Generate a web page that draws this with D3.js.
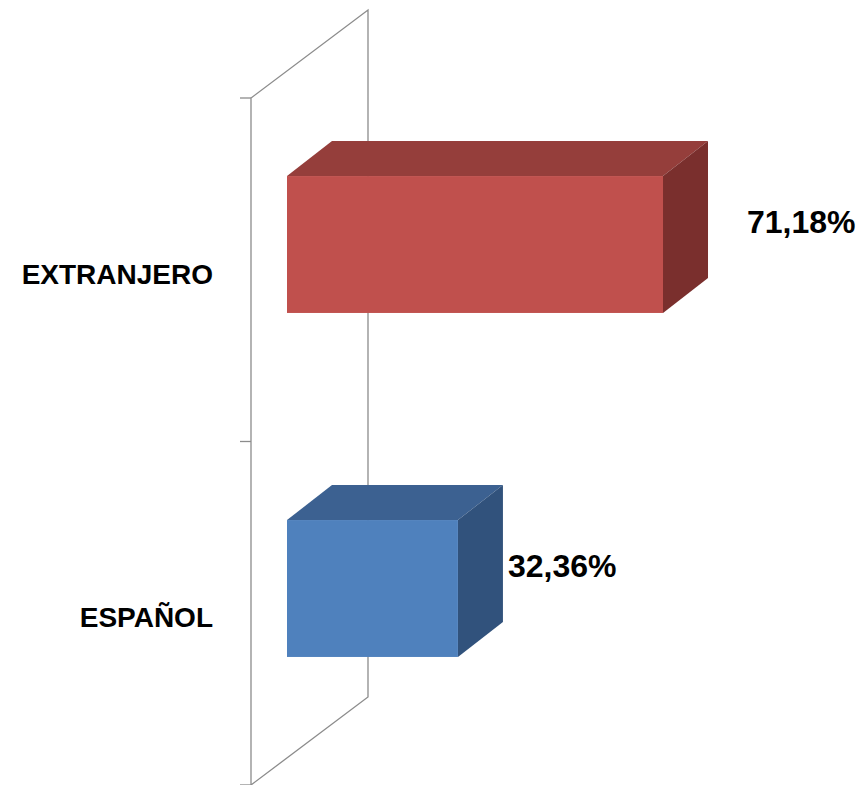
<!DOCTYPE html>
<html>
<head>
<meta charset="utf-8">
<script src="https://cdn.jsdelivr.net/npm/d3@7"></script>
<style>
  html, body { margin: 0; padding: 0; background: #ffffff; }
  svg { display: block; }
</style>
</head>
<body>
<script>
// ---- data ----
const categories = ["EXTRANJERO", "ESPAÑOL"];
const values = [71.18, 32.36];
const valueLabels = ["71,18%", "32,36%"];

// ---- styles ----
const W = 866, H = 785;
const frontColors = ["#C0504D", "#4F81BD"];
const topColors = ["#953E3B", "#3C6191"];
const sideColors = ["#7A2F2D", "#31527C"];
const depthX = 45, depthY = -35;
const font = "'Liberation Sans', Arial, sans-serif";

const svg = d3.select("body").append("svg").attr("width", W).attr("height", H);

// scales
const x = d3.scaleLinear().domain([0, 80]).range([287, 709.6]);
const y = d3.scaleBand().domain(categories).range([72.5, 760.5]).paddingInner(0.602).paddingOuter(0.301);
const yWall = d3.scaleBand().domain(categories).range([98, 785]);

// back wall (category axis plane)
const wallL = 251, wallR = 368, wallTop = 98, wallBot = 785, wallShift = -88;
const wall = svg.append("g").attr("fill", "none").attr("stroke", "#8c8c8c").attr("stroke-width", 1.3);
wall.append("path").attr("d", `M${wallL},${wallBot} L${wallL},${wallTop} L${wallR},${wallTop + wallShift} L${wallR},${wallBot + wallShift} Z`);
// ticks
const tickPos = [yWall.range()[0], ...categories.slice(1).map(c => yWall(c)), yWall.range()[1]];
wall.selectAll("line.tick").data(tickPos).join("line")
  .attr("x1", wallL - 11).attr("x2", wallL).attr("y1", d => d).attr("y2", d => d);

// category labels
svg.append("g").selectAll("text").data(categories).join("text")
  .attr("x", 213).attr("y", d => yWall(d) + yWall.bandwidth() / 2 + 14)
  .attr("text-anchor", "end")
  .attr("font-family", font).attr("font-weight", "bold").attr("font-size", 28)
  .attr("fill", "#000")
  .text(d => d);

// bars
const bars = svg.append("g");
categories.forEach((c, i) => {
  const x0 = x(0), x1 = x(values[i]);
  const y0 = y(c), y1 = y(c) + y.bandwidth();
  const g = bars.append("g");
  // top face
  g.append("path").attr("fill", topColors[i])
    .attr("d", `M${x0},${y0} L${x0 + depthX},${y0 + depthY} L${x1 + depthX},${y0 + depthY} L${x1},${y0} Z`);
  // side face
  g.append("path").attr("fill", sideColors[i])
    .attr("d", `M${x1},${y0} L${x1 + depthX},${y0 + depthY} L${x1 + depthX},${y1 + depthY} L${x1},${y1} Z`);
  // front face
  g.append("rect").attr("fill", frontColors[i])
    .attr("x", x0).attr("y", y0).attr("width", x1 - x0).attr("height", y1 - y0);
});

// value labels
const labelDx = [39, 5];
svg.append("g").selectAll("text").data(categories).join("text")
  .attr("x", (d, i) => x(values[i]) + depthX + labelDx[i])
  .attr("y", d => y(d) + y.bandwidth() / 2 - 12)
  .attr("font-family", font).attr("font-weight", "bold").attr("font-size", 32)
  .attr("fill", "#000")
  .text((d, i) => valueLabels[i]);
</script>
</body>
</html>
